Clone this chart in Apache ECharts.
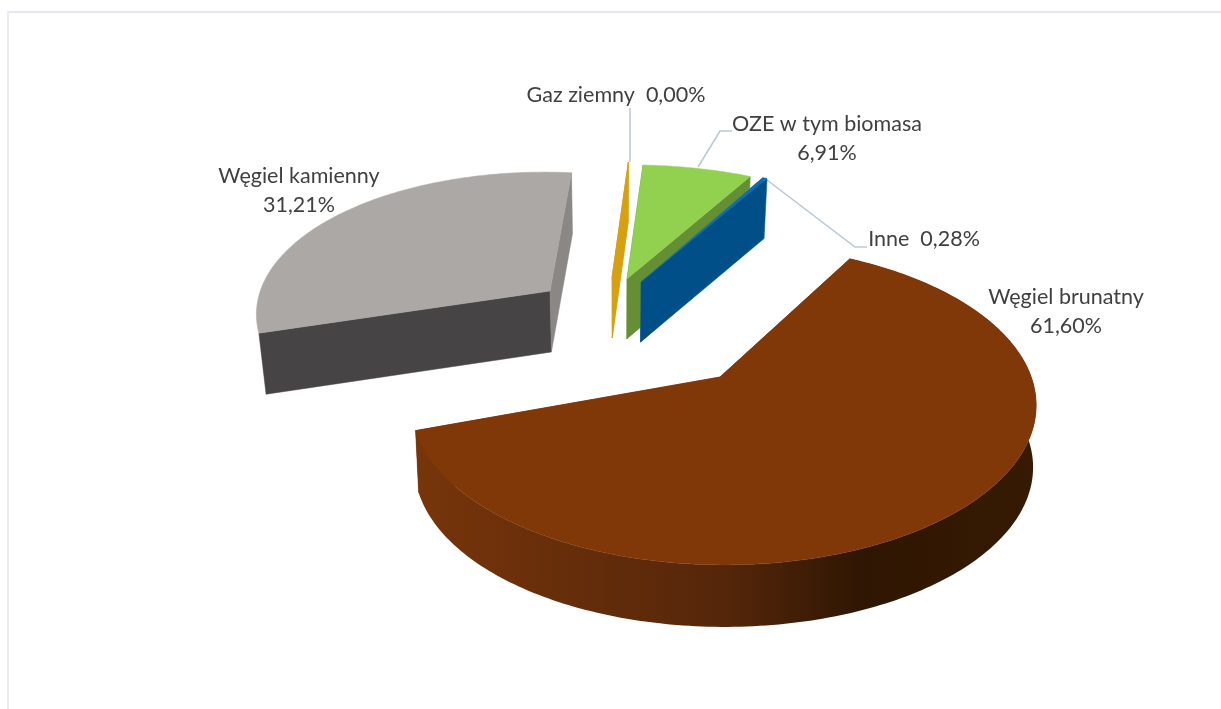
<!DOCTYPE html>
<html><head><meta charset="utf-8">
<style>html,body{margin:0;padding:0;background:#fff}#c{width:1221px;height:709px}</style>
<script src="https://cdn.jsdelivr.net/npm/echarts@6/dist/echarts.min.js"></script>
</head><body><div id="c"></div>
<script>
// data, in clockwise drawing order
const categories = ['Gaz ziemny', 'OZE w tym biomasa', 'Inne', 'Węgiel brunatny', 'Węgiel kamienny'];
const values = [0.00, 6.91, 0.28, 61.60, 31.21];

// layout and style
const firstAngle = 3.1, RX = 306, RY = 155, K = 0.175;
const explode = [
  {ax: 612, ay: 278, sx: 1.0, sy: 0.88, lean: -0.02, tilt: 0, kx: 0, depth: 60, conv: 0.98, vx: 620},
  {ax: 627, ay: 279, sx: 0.975, sy: 0.865, lean: -0.02, tilt: 0, kx: 0, depth: 60, conv: 0.98, vx: 620},
  {ax: 641, ay: 282, sx: 0.98, sy: 0.88, lean: 0, tilt: 0, kx: 0, depth: 60, conv: 0.98, vx: 620},
  {ax: 720, ay: 377, sx: 1.005, sy: 1.0, lean: 0, tilt: 0, kx: 0.012, depth: 62, conv: 0.99, vx: 725},
  {ax: 550, ay: 291, sx: 0.94, sy: 0.9, lean: -0.07, tilt: 0.023, kx: 0, depth: 61, conv: 0.98, vx: 620}
];
const topColors = ['#d6a010', '#92d050', '#0f6cb0', '#803808', '#aca8a6'];
const startWall = ['#d6a010', '#648f35', '#004f88', '#75340a', '#464444'];
const endWall = ['#d6a010', '#648f35', '#004f88', '#75340a', '#8a8785'];
const brownStops = [[0, '#77350a'], [0.5, '#55260a'], [0.72, '#2f1602'], [1, '#361a03']];
const labelPos = [
  {lines: 1, x: 616, y: 95},
  {lines: 2, x: 827, y: 110},
  {lines: 1, x: 924, y: 239},
  {lines: 2, x: 1066, y: 283},
  {lines: 2, x: 299, y: 162}
];
const leaders = [
  [[630, 108], [630, 162]],
  [[732, 131], [720, 131], [698, 167]],
  [[867, 247], [855, 247], [767, 180]]
];
const FONT = 'Lato, "Open Sans", sans-serif';

const fmt = v => v.toFixed(2).replace('.', ',') + '%';
const total = values.reduce((a, b) => a + b, 0);
const rad = d => d * Math.PI / 180;

function project(e, deg) {
  const x = Math.sin(rad(deg)), y = -Math.cos(rad(deg)), w = 1 - K * y - e.kx * x;
  const dx = e.sx * RX * x / w;
  const dy = e.sy * RY * y / w + e.tilt * dx;
  return [e.ax + dx + e.lean * dy, e.ay + dy];
}

function renderItem(params) {
  const i = params.dataIndex;
  const before = values.slice(0, i).reduce((a, b) => a + b, 0);
  const a0 = firstAngle + before / total * 360;
  const a1 = a0 + values[i] / total * 360;
  const e = explode[i];
  const drop = p => [e.vx + (p[0] - e.vx) * e.conv, p[1] + e.depth];
  const apex = [e.ax, e.ay];
  const arc = [];
  const steps = Math.max(1, Math.ceil(a1 - a0));
  for (let s = 0; s <= steps; s++) arc.push(project(e, a0 + (a1 - a0) * s / steps));
  const first = arc[0], last = arc[arc.length - 1];
  const poly = (points, fill, z2) => ({
    type: 'polygon', z2, shape: {points},
    style: {fill, stroke: fill, lineWidth: 0.5}
  });
  const children = [];
  children.push(poly([apex, first, drop(first), drop(apex)], startWall[i], 1));
  children.push(poly([apex, last, drop(last), drop(apex)], endWall[i], 2));
  if (i === 3) {
    const grad = new echarts.graphic.LinearGradient(0, 0, 1, 0,
      brownStops.map(s => ({offset: s[0], color: s[1]})));
    children.push({type: 'polygon', z2: 3,
      shape: {points: arc.concat(arc.slice().reverse().map(drop))},
      style: {fill: grad}});
  }
  children.push(poly([apex].concat(arc), topColors[i], 4));
  return {type: 'group', children};
}

function renderLabel(params) {
  const i = params.dataIndex, p = labelPos[i];
  const text = p.lines === 2 ? categories[i] + '\n' + fmt(values[i])
                             : categories[i] + '  ' + fmt(values[i]);
  return {
    type: 'text', x: p.x, y: p.y,
    style: {text, fill: '#404040', font: '400 21.5px ' + FONT, align: 'center',
            verticalAlign: p.lines === 2 ? 'top' : 'middle', lineHeight: 29}
  };
}

const chart = echarts.init(document.getElementById('c'), null, {renderer: 'canvas'});
chart.setOption({
  animation: false,
  backgroundColor: '#fff',
  graphic: [
    {type: 'rect', shape: {x: 8, y: 11, width: 1213, height: 2}, style: {fill: '#e4e7ef'}, z: 1},
    {type: 'rect', shape: {x: 7, y: 11, width: 2, height: 698}, style: {fill: '#e9ecf1'}, z: 1}
  ].concat(leaders.map(pts => ({
    type: 'polyline', shape: {points: pts},
    style: {stroke: '#b9c7d6', lineWidth: 1.5, fill: null}, z: 1
  }))),
  series: [
    {type: 'custom', coordinateSystem: 'none', renderItem, data: values, z: 5, silent: true, clip: false},
    {type: 'custom', coordinateSystem: 'none', renderItem: renderLabel, data: values, z: 6, silent: true}
  ]
});
</script></body></html>
